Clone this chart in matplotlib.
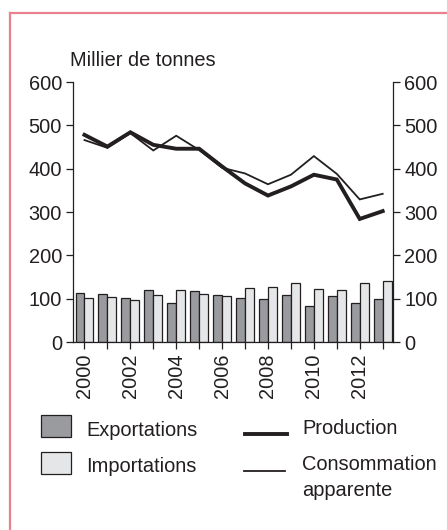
import numpy as np
import matplotlib
matplotlib.use("Agg")
import matplotlib.pyplot as plt
from matplotlib.patches import Rectangle
from matplotlib.lines import Line2D

plt.rcParams['font.family'] = ['Liberation Sans', 'DejaVu Sans']

years = list(range(2000, 2014))
exportations = [114, 111, 101, 121, 91, 118, 109, 101, 100, 109, 82, 107, 91, 100]
importations = [102, 105, 97, 108, 121, 111, 107, 125, 128, 136, 123, 119, 137, 140]
production = [478, 451, 484, 455, 446, 446, 405, 366, 338, 359, 386, 375, 284, 302]
consommation = [466, 448, 482, 442, 476, 443, 402, 389, 364, 386, 429, 388, 329, 342]

ink = '#231f20'
W, H = 447, 530

fig = plt.figure(figsize=(W / 100, H / 100), dpi=100)

def fx(x):
    return x / W

def fy(y):
    return 1 - y / H

ax = fig.add_axes([fx(73), fy(342), fx(393) - fx(73), fy(82) - fy(342)])

x = np.arange(len(years))
bw = 0.39
ax.bar(x - bw / 2, exportations, bw, color='#9a9b9f', edgecolor=ink, linewidth=0.9)
ax.bar(x + bw / 2, importations, bw, color='#e5e6e7', edgecolor=ink, linewidth=0.9)
ax.plot(x, consommation, color=ink, lw=1.3, solid_joinstyle='miter')
ax.plot(x, production, color=ink, lw=2.8, solid_joinstyle='miter')

ax.set_xlim(-0.5, 13.45)
ax.set_ylim(0, 600)
ax.set_yticks(range(0, 601, 100))
ax.set_xticks(x)
ax.set_xticklabels([str(y) if y % 2 == 0 else '' for y in years], rotation=90)
ax.spines['top'].set_visible(False)
for s in ['left', 'right', 'bottom']:
    ax.spines[s].set_color(ink)
    ax.spines[s].set_linewidth(0.9)
ax.tick_params(axis='both', direction='out', length=5, width=0.9, color=ink,
               labelsize=14.4, labelcolor=ink, pad=3)
ax.tick_params(axis='y', right=True, labelright=True)

fig.text(fx(70), fy(60), 'Millier de tonnes', fontsize=14.4, color=ink,
         va='center', ha='left')

# legend
fig.add_artist(Rectangle((fx(41), fy(437)), fx(30), fy(415) - fy(437),
                         facecolor='#9a9b9f', edgecolor=ink, lw=0.9,
                         transform=fig.transFigure))
fig.add_artist(Rectangle((fx(41), fy(474)), fx(30), fy(452) - fy(474),
                         facecolor='#e5e6e7', edgecolor=ink, lw=0.9,
                         transform=fig.transFigure))
fig.text(fx(86), fy(431), 'Exportations', fontsize=14.4, color=ink, va='center')
fig.text(fx(86), fy(467), 'Importations', fontsize=14.4, color=ink, va='center')
fig.add_artist(Line2D([fx(245), fx(287)], [fy(434), fy(434)], color=ink, lw=2.8,
                      transform=fig.transFigure))
fig.add_artist(Line2D([fx(244), fx(285)], [fy(471), fy(471)], color=ink, lw=1.3,
                      transform=fig.transFigure))
fig.text(fx(302), fy(428), 'Production', fontsize=14.4, color=ink, va='center')
fig.text(fx(302), fy(465), 'Consommation', fontsize=14.4, color=ink, va='center')
fig.text(fx(302), fy(491), 'apparente', fontsize=14.4, color=ink, va='center')

# pink frame
frame = '#e8808f'
fig.add_artist(Line2D([fx(9.5), fx(9.5)], [fy(13), 0], color=frame, lw=1.6,
                      transform=fig.transFigure))
fig.add_artist(Line2D([fx(9.5), 1], [fy(13), fy(13)], color=frame, lw=1.6,
                      transform=fig.transFigure))

fig.savefig('out.png', dpi=100)
